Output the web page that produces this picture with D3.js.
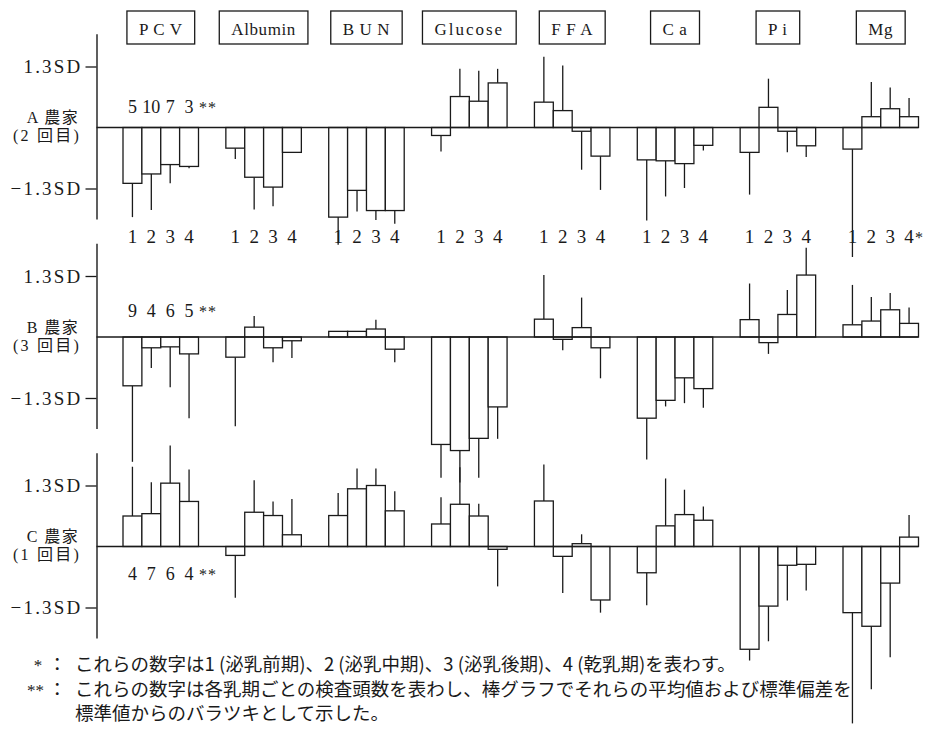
<!DOCTYPE html>
<html>
<head>
<meta charset="utf-8">
<script src="https://cdn.jsdelivr.net/npm/d3@7"></script>
<style>
  html, body { margin: 0; padding: 0; background: #fff; }
  svg { display: block; }
</style>
</head>
<body>
<svg id="chart" width="930" height="738"></svg>
<script>
// Blood profile deviations (in SD units) by lactation period, three farms.
const groups = ["PCV", "Albumin", "BUN", "Glucose", "FFA", "Ca", "Pi", "Mg"];
const headerLabels = ["P C V", "Albumin", "B U N", "Glucose", "F F A", "C a", "P i", "Mg"];
const periods = ["1", "2", "3", "4"];
const farmNames = ["A 農家", "B 農家", "C 農家"];
const farmVisits = ["(2 回目)", "(3 回目)", "(1 回目)"];
const tickValues = [1.3, -1.3];
const tickLabels = ["1.3SD", "−1.3SD"];

// number of animals examined per period
const countsA = [5, 10, 7, 3];
const countsB = [9, 4, 6, 5];
const countsC = [4, 7, 6, 4];

// mean deviation per test item (rows) and lactation period (columns)
const meanA = [
  [-1.19, -0.99, -0.79, -0.83],
  [-0.44, -1.06, -1.27, -0.53],
  [-1.91, -1.34, -1.77, -1.77],
  [-0.17, 0.66, 0.56, 0.95],
  [0.54, 0.36, -0.08, -0.61],
  [-0.69, -0.71, -0.77, -0.38],
  [-0.53, 0.43, -0.08, -0.39],
  [-0.46, 0.23, 0.40, 0.23]
];
const sdA = [
  [0.72, 0.77, 0.40, 0.04],
  [0.23, 0.69, 0.41, 0.00],
  [0.59, 0.45, 0.20, 0.28],
  [0.34, 0.59, 0.65, 0.30],
  [0.97, 0.96, 0.82, 0.72],
  [1.29, 0.76, 0.52, 0.11],
  [0.90, 0.61, 0.45, 0.24],
  [2.30, 0.74, 0.45, 0.40]
];
const meanB = [
  [-1.04, -0.23, -0.21, -0.36],
  [-0.43, 0.21, -0.23, -0.08],
  [0.12, 0.12, 0.17, -0.26],
  [-2.29, -2.42, -2.16, -1.49],
  [0.38, -0.05, 0.20, -0.23],
  [-1.73, -1.35, -0.87, -1.10],
  [0.37, -0.12, 0.48, 1.32],
  [0.26, 0.34, 0.58, 0.29]
];
const sdB = [
  [1.62, 0.43, 0.86, 1.37],
  [1.47, 0.24, 0.31, 0.37],
  [0.00, 0.00, 0.20, 0.28],
  [0.71, 0.68, 0.84, 0.68],
  [0.94, 0.23, 0.64, 0.65],
  [0.88, 0.13, 0.54, 0.41],
  [0.77, 0.24, 0.52, 0.58],
  [0.85, 0.51, 0.36, 0.34]
];
const meanC = [
  [0.65, 0.70, 1.35, 0.96],
  [-0.19, 0.73, 0.66, 0.25],
  [0.66, 1.23, 1.30, 0.76],
  [0.48, 0.90, 0.65, -0.06],
  [0.97, -0.21, 0.06, -1.14],
  [-0.56, 0.44, 0.68, 0.56],
  [-2.19, -1.27, -0.40, -0.38],
  [-1.41, -1.70, -0.78, 0.20]
];
const sdC = [
  [1.05, 0.67, 0.80, 0.68],
  [0.90, 0.68, 0.30, 0.76],
  [0.48, 0.43, 0.36, 0.42],
  [0.57, 0.79, 0.26, 0.79],
  [0.78, 0.78, 0.20, 0.27],
  [0.69, 1.01, 0.53, 0.29],
  [0.24, 0.75, 0.75, 0.56],
  [2.36, 1.34, 1.58, 0.47]
];

const farms = [
  { name: farmNames[0], visit: farmVisits[0], counts: countsA, mean: meanA, sd: sdA },
  { name: farmNames[1], visit: farmVisits[1], counts: countsB, mean: meanB, sd: sdB },
  { name: farmNames[2], visit: farmVisits[2], counts: countsC, mean: meanC, sd: sdC }
];

// ---- layout ----
const serif = "'Liberation Serif', 'Noto Sans CJK JP', serif";
const cjk = "'Noto Sans CJK JP', 'Liberation Serif', sans-serif";
const ink = "#1a1a1a";
const axisX = 96.5;
const firstZero = 127.5, panelStep = 209.5;
const pxPerSD = 61 / 1.3;
const countDy = [-14.5, -20, 33.5];

const svg = d3.select("#chart");

const x = d3.scaleBand().domain(groups).range([123, 918.5]).paddingInner(0.266).paddingOuter(0);
const xi = d3.scaleBand().domain(periods).range([0, x.bandwidth()]).padding(0);
const barCenter = (g, p) => x(g) + xi(p) + xi.bandwidth() / 2;

// header boxes with item names
const headers = svg.append("g").attr("class", "headers");
groups.forEach((g, i) => {
  const cx = x(g) + x.bandwidth() / 2;
  const hg = headers.append("g");
  const t = hg.append("text")
    .attr("x", cx).attr("y", 34.5)
    .attr("text-anchor", "middle")
    .attr("font-family", serif)
    .attr("font-size", 17)
    .attr("letter-spacing", i === 3 ? 2 : 0.6)
    .attr("fill", ink)
    .text(headerLabels[i]);
  const bb = t.node().getBBox();
  hg.insert("rect", "text")
    .attr("x", bb.x - 12).attr("y", 11)
    .attr("width", bb.width + 24).attr("height", 33)
    .attr("fill", "none").attr("stroke", ink).attr("stroke-width", 1.3);
});

farms.forEach((farm, fi) => {
  const zero = firstZero + fi * panelStep;
  const y = d3.scaleLinear().domain([-1.95, 2.0]).range([zero + 1.95 * pxPerSD, zero - 2.0 * pxPerSD]);
  const panel = svg.append("g").attr("class", "panel");

  // y axis with ±1.3SD ticks
  const axis = d3.axisLeft(y)
    .tickValues(tickValues)
    .tickSize(11).tickSizeOuter(0).tickPadding(3)
    .tickFormat((d, i) => tickLabels[i]);
  const ag = panel.append("g").attr("transform", `translate(${axisX},0)`).call(axis);
  ag.select(".domain").attr("stroke", ink).attr("stroke-width", 1.4);
  ag.selectAll(".tick line").attr("stroke", ink).attr("stroke-width", 1.3);
  ag.selectAll(".tick text")
    .attr("font-family", serif).attr("font-size", 19)
    .attr("letter-spacing", 2.2).attr("fill", ink);

  // farm label
  panel.append("text")
    .attr("x", 53).attr("y", zero - 4.5)
    .attr("text-anchor", "middle")
    .attr("font-family", serif).attr("font-size", 16).attr("letter-spacing", 1.5)
    .attr("fill", ink).text(farm.name);
  panel.append("text")
    .attr("x", 47).attr("y", zero + 13.5)
    .attr("text-anchor", "middle")
    .attr("font-family", serif).attr("font-size", 16).attr("letter-spacing", 2.2)
    .attr("fill", ink).text(farm.visit);

  // bars and one-sided SD whiskers
  const rows = [];
  groups.forEach((g, gi) => periods.forEach((p, pi) => {
    rows.push({ g, p, m: farm.mean[gi][pi], s: farm.sd[gi][pi] });
  }));

  panel.append("g").selectAll("line").data(rows.filter(d => d.s > 0)).join("line")
    .attr("x1", d => barCenter(d.g, d.p)).attr("x2", d => barCenter(d.g, d.p))
    .attr("y1", d => y(d.m))
    .attr("y2", d => y(d.m + Math.sign(d.m) * d.s))
    .attr("stroke", ink).attr("stroke-width", 1.3);

  panel.append("g").selectAll("rect").data(rows).join("rect")
    .attr("x", d => x(d.g) + xi(d.p))
    .attr("width", xi.bandwidth())
    .attr("y", d => Math.min(y(d.m), y(0)))
    .attr("height", d => Math.abs(y(d.m) - y(0)))
    .attr("fill", "#fff").attr("stroke", ink).attr("stroke-width", 1.3);

  // zero (standard value) line
  panel.append("line")
    .attr("x1", axisX).attr("x2", x.range()[1])
    .attr("y1", y(0)).attr("y2", y(0))
    .attr("stroke", ink).attr("stroke-width", 1.5);

  // number of animals per period
  const cg = panel.append("g")
    .attr("font-family", serif).attr("font-size", 18).attr("fill", ink);
  cg.selectAll("text").data(farm.counts).join("text")
    .attr("x", (d, i) => barCenter(groups[0], periods[i]))
    .attr("y", zero + countDy[fi])
    .attr("text-anchor", "middle")
    .text(d => d);
  cg.append("text")
    .attr("x", barCenter(groups[0], periods[3]) + 10)
    .attr("y", zero + countDy[fi])
    .attr("font-size", 16).attr("letter-spacing", 1)
    .text("**");

  // period numbers under the first panel
  if (fi === 0) {
    const pg = panel.append("g")
      .attr("font-family", serif).attr("font-size", 19).attr("fill", ink);
    groups.forEach(g => {
      periods.forEach(p => {
        pg.append("text")
          .attr("x", barCenter(g, p)).attr("y", zero + 115.5)
          .attr("text-anchor", "middle").text(p);
      });
    });
    pg.append("text")
      .attr("x", barCenter(groups[7], periods[3]) + 6).attr("y", zero + 115.5)
      .attr("font-size", 16).text("*");
  }
});

// footnotes
const notes = svg.append("g").attr("font-family", cjk).attr("font-size", 18.5).attr("fill", ink);
notes.append("text").attr("x", 38).attr("y", 671).attr("text-anchor", "middle").attr("font-family", serif).attr("font-size", 17).text("*");
notes.append("text").attr("x", 48).attr("y", 671).text("：");
notes.append("text").attr("x", 75).attr("y", 671)
  .text("これらの数字は1 (泌乳前期)、2 (泌乳中期)、3 (泌乳後期)、4 (乾乳期)を表わす。");
notes.append("text").attr("x", 44).attr("y", 696).attr("text-anchor", "end").attr("font-family", serif).attr("font-size", 17).text("**");
notes.append("text").attr("x", 48).attr("y", 696).text("：");
notes.append("text").attr("x", 75).attr("y", 696)
  .text("これらの数字は各乳期ごとの検査頭数を表わし、棒グラフでそれらの平均値および標準偏差を");
notes.append("text").attr("x", 75).attr("y", 720)
  .text("標準値からのバラツキとして示した。");
</script>
</body>
</html>
